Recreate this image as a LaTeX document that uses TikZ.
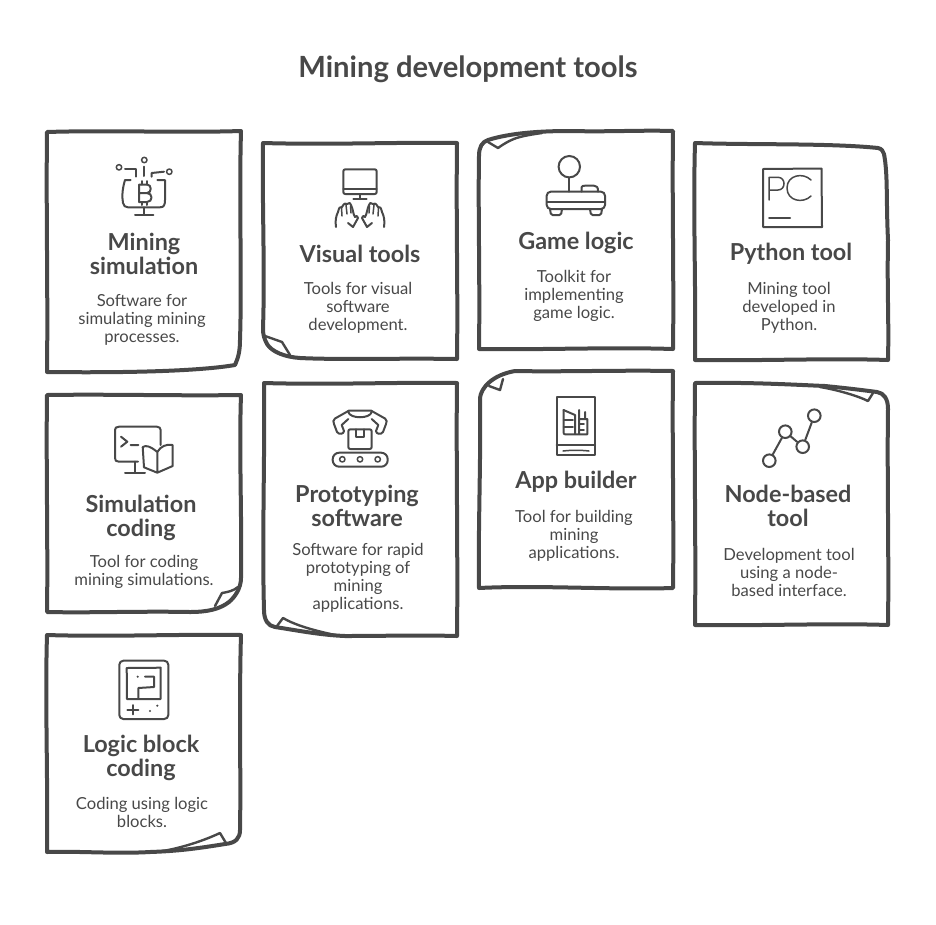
\documentclass[tikz,border=0pt]{standalone}
\usepackage{fontspec}
\setmainfont{Lato}
\definecolor{ink}{HTML}{484848}
\tikzset{
  x=1pt,y=-1pt,
  card/.style={draw=ink,line width=4pt,line join=round,line cap=round},
  fold/.style={draw=ink,line width=2.4pt,line join=round,line cap=round},
  icon/.style={draw=ink,line width=2pt,line join=round,line cap=round},
  thin icon/.style={draw=ink,line width=1.5pt,line join=round,line cap=round},
  headtext/.style={text=ink,align=center,inner sep=0pt,font=\fontsize{23.4}{24}\selectfont\bfseries},
  bodytext/.style={text=ink,align=center,inner sep=0pt,font=\fontsize{16.6}{18}\selectfont},
  titletext/.style={text=ink,inner sep=0pt,font=\fontsize{29.2}{32}\selectfont\bfseries},
  dot/.style={circle,draw=ink,line width=2pt,inner sep=0pt,minimum size=#1},
}
\begin{document}
\begin{tikzpicture}
\useasboundingbox (0,0) rectangle (936,924);
\node[titletext] (title) at (468,69) {Mining development tools};

% --- card outlines
\draw[card] (47,132) .. controls (110,130) and (180,133) .. (241,131)
  .. controls (239,200) and (242,280) .. (240,340) .. controls (240,352) and (238,358) .. (235,365)
  .. controls (200,371) and (130,373) .. (47,372) .. controls (48,290) and (46,210) .. (47,132) -- cycle;
\draw[card] (263,143) .. controls (330,145) and (400,142) .. (457,143)
  .. controls (456,220) and (458,290) .. (457,359) .. controls (400,358) and (340,360) .. (300,358)
  .. controls (285,357) and (272,352) .. (267,344) .. controls (264,338) and (263,335) .. (263,328)
  .. controls (265,270) and (262,200) .. (263,143) -- cycle;
\draw[fold] (265,336) -- (282,342) -- (290,355);
\draw[card] (673,131) .. controls (672,200) and (674,280) .. (673,349)
  .. controls (610,347) and (540,350) .. (479,349) .. controls (480,280) and (478,210) .. (479,156)
  .. controls (479,147) and (482,142) .. (488,140) .. controls (510,133) and (540,131) .. (570,131)
  .. controls (610,132) and (640,130) .. (673,131) -- cycle;
\draw[fold] (488,142) -- (498,148) .. controls (505,143) and (512,139) .. (520,137) .. controls (528,135) and (535,134) .. (542,133);
\draw[card] (695,143) .. controls (750,145) and (830,143) .. (878,148)
  .. controls (882,149) and (883,151) .. (884,154) .. controls (888,175) and (886,200) .. (888,240)
  .. controls (887,290) and (889,320) .. (888,360) .. controls (830,358) and (760,361) .. (695,360)
  .. controls (696,290) and (693,210) .. (695,143) -- cycle;
\draw[card] (47,395) .. controls (110,394) and (180,396) .. (241,395)
  .. controls (239,450) and (242,520) .. (241,578) .. controls (241,588) and (235,597) .. (229,602)
  .. controls (220,609) and (208,612) .. (190,612) .. controls (140,611) and (90,613) .. (47,612)
  .. controls (48,550) and (46,460) .. (47,395) -- cycle;
\draw[fold] (238,587) .. controls (233,591) and (228,592) .. (222,593) -- (215,606);
\draw[card] (264,383) .. controls (330,385) and (400,382) .. (457,383)
  .. controls (456,450) and (458,560) .. (457,636) .. controls (420,635) and (380,636) .. (345,636)
  .. controls (320,635) and (295,630) .. (275,627)
  .. controls (268,626) and (264,620) .. (264,610) .. controls (262,540) and (265,450) .. (264,383) -- cycle;
\draw[fold] (277,626) -- (283,618) .. controls (295,625) and (312,630) .. (335,635);
\draw[card] (673,371) .. controls (672,440) and (674,520) .. (673,588)
  .. controls (610,590) and (540,585) .. (479,588) .. controls (478,530) and (481,460) .. (480,398)
  .. controls (481,388) and (492,375) .. (515,371) .. controls (560,372) and (620,370) .. (673,371) -- cycle;
\draw[fold] (489,386) -- (500,390) -- (503,379);
\draw[card] (695,383) .. controls (750,382) and (800,385) .. (825,386)
  .. controls (845,388) and (862,390) .. (877,392) .. controls (884,393) and (888,399) .. (888,409)
  .. controls (887,470) and (889,560) .. (888,625) .. controls (830,623) and (760,626) .. (695,625)
  .. controls (696,540) and (694,460) .. (695,383) -- cycle;
\draw[fold] (873,393) -- (868,401) .. controls (858,396) and (838,390) .. (820,387);
\draw[card] (47,635) .. controls (110,637) and (180,634) .. (241,635)
  .. controls (239,700) and (241,780) .. (240,830) .. controls (240,838) and (236,843) .. (225,844)
  .. controls (200,848) and (180,851) .. (150,852)
  .. controls (115,854) and (80,851) .. (47,852) .. controls (48,780) and (45,700) .. (47,635) -- cycle;
\draw[fold] (226,843) -- (220,833) .. controls (205,840) and (185,847) .. (163,851);

% --- texts
\node[headtext] (h1) at (144,254) {Mining\\simulation};
\node[bodytext] (b1) at (142,320) {Software for\\simulating mining\\processes.};
\node[headtext] (h2) at (360,254) {Visual tools};
\node[bodytext] (b2) at (358,308) {Tools for visual\\software\\development.};
\node[headtext] (h3) at (576,243) {Game logic};
\node[bodytext] (b3) at (574,296) {Toolkit for\\implementing\\game logic.};
\node[headtext] (h4) at (791,254) {Python tool};
\node[bodytext] (b4) at (789,308) {Mining tool\\developed in\\Python.};
\node[headtext] (h5) at (141,518) {Simulation\\coding};
\node[bodytext] (b5) at (144,572) {Tool for coding\\mining simulations.};
\node[headtext] (h6) at (357,506) {Prototyping\\software};
\node[bodytext] (b6) at (358,578) {Software for rapid\\prototyping of\\mining\\applications.};
\node[headtext] (h7) at (576,482) {App builder};
\node[bodytext] (b7) at (574,536) {Tool for building\\mining\\applications.};
\node[headtext] (h8) at (788,506) {Node-based\\tool};
\node[bodytext] (b8) at (789,572) {Development tool\\using a node-\\based interface.};
\node[headtext] (h9) at (141,758) {Logic block\\coding};
\node[bodytext] (b9) at (142,812) {Coding using logic\\blocks.};

% --- icon 1: bitcoin monitor
\draw[thin icon] (144.3,160) circle (2.7) (119,167.3) circle (2.7) (169.3,171.7) circle (2.7);
\draw[icon] (144.3,166.7) -- (144.3,176);
\draw[icon] (125,169) -- (136,169) -- (136,176.7);
\draw[icon] (151.7,176.7) -- (151.7,173) -- (164,171.7);
\draw[icon] (130.7,180) -- (125,180) .. controls (122,190) and (122,197) .. (123,203)
  .. controls (124,206) and (125,207.3) .. (128,207.3) -- (160,207.3)
  .. controls (164,207.3) and (165,205) .. (165,200) -- (165,180) -- (157.3,180);
\draw[icon] (144.3,207.3) -- (144.3,214.3) (135,214.5) -- (153.3,214.5);
\draw[icon] (139,184.5) -- (147,184.5) .. controls (152,184.5) and (152,193) .. (147,193) -- (139,193)
  (147,193) .. controls (153,193) and (153,202) .. (147,202) -- (139,202) -- (139,184.5);
\draw[icon] (142,181) -- (142,184.5) (147,181) -- (147,184.5) (142,202) -- (142,205) (147,202) -- (147,205);

% --- icon 2: monitor and hands
\draw[icon,rounded corners=2pt] (343.3,169.3) rectangle (376.7,194);
\draw[icon] (343.3,189.3) -- (376.7,189.3) (360,194) -- (360,199) (353.3,199) -- (366.7,199);
\foreach \m/\o in {1/0pt,-1/720pt}{
\begin{scope}[xshift=\o,xscale=\m]
\draw[icon] (336,227) .. controls (335,221) and (336,216) .. (338,212)
  .. controls (339,208) and (340,206) .. (342,207) .. controls (344,203) and (346,203) .. (347,204)
  .. controls (349,202) and (351,203) .. (351,205) .. controls (353,209) and (353,214) .. (355,217)
  .. controls (356,215) and (358,216) .. (358,218) -- (353,227) -- (348,223);
\draw[thin icon] (341.5,208) -- (342,216) (346,205) -- (347,214) (350.5,206) -- (351,213);
\end{scope}}

% --- icon 3: joystick
\node[dot=21.4pt] (ball) at (569.3,166.7) {};
\coordinate (stickfoot) at (569.3,191.7);
\draw[icon] (ball) -- (stickfoot);
\draw[icon,rounded corners=4pt] (546.7,191.7) rectangle (605,209);
\draw[icon] (547,201.7) -- (605,201.7);
\draw[icon] (581.7,191.7) -- (581.7,187) .. controls (582,186) and (583,185.7) .. (585,185.7) -- (594,185.7)
  .. controls (597,185.7) and (598,187) .. (598,191.7);
\draw[icon,rounded corners=1.5pt] (550,209) -- (551,215) -- (561,215) -- (562,209);
\draw[icon,rounded corners=1.5pt] (590,209) -- (591,215) -- (601,215) -- (602,209);

% --- icon 4: PC logo
\draw[icon] (763,169) -- (821.5,168.5) -- (822,227) -- (763,227) -- cycle;
\draw[thin icon] (769,200) -- (769,177.3) -- (778,177.3) .. controls (786,177.3) and (786,190) .. (778,190) -- (769,190);
\draw[thin icon] (811,180) .. controls (803,172) and (787,175) .. (787,188) .. controls (787,201) and (803,204) .. (811,196);
\draw[icon] (769,217.7) -- (790,217.7);

% --- icon 5: terminal and book
\draw[icon] (160.7,445) -- (160.7,430) .. controls (160.7,428) and (159,426.7) .. (157,426.7) -- (119,426.7)
  .. controls (116,426.7) and (115,428) .. (115,430) -- (115,458) .. controls (115,460.5) and (116,461.7) .. (119,461.7) -- (138,461.7);
\draw[icon] (135,461.7) -- (135,472.3) (125,472.5) -- (145,472.5);
\draw[icon] (121,436.7) -- (127.3,441.7) -- (121,446.7) (130.7,445) -- (138.3,445);
\draw[icon] (157.3,452) .. controls (150,446) and (146,445) .. (142.7,447) -- (144,467.3) -- (157.3,472.7) -- (172.7,466) -- (172.7,445)
  .. controls (166,444) and (161,446) .. (157.3,452) -- (157.3,472.7);

% --- icon 6: robot arm on conveyor
\draw[icon,rounded corners=6.5pt] (332.7,452.7) rectangle (387.7,466.7);
\draw[thin icon] (342.3,459.3) circle (2.7) (360,459.3) circle (2.7) (377.7,459.3) circle (2.7);
\draw[icon,rounded corners=2pt] (348.3,429.3) rectangle (371.7,449);
\draw[icon] (356,429.3) -- (356,437.3) -- (364,437.3) -- (364,429.3);
\draw[icon] (348.3,410.7) -- (371.7,410.7) (348.3,412) .. controls (350,419) and (370,419) .. (371.7,412);
\draw[icon] (348.3,411) -- (335,418.5) .. controls (333,420) and (333,422) .. (334,424) -- (337,432)
  .. controls (339,435) and (344,434) .. (344,431) -- (341.7,425) -- (348.3,419);
\draw[icon] (371.7,411) -- (385,418.5) .. controls (387,420) and (387,422) .. (386,424) -- (383,432)
  .. controls (381,435) and (376,434) .. (376,431) -- (378.3,425) -- (371.7,419);

% --- icon 7: app building
\draw[icon] (556.7,397.3) -- (595,397.3) -- (595,455) -- (556.7,455) -- cycle;
\draw[icon] (556.7,444.5) -- (595,444.5);
\draw[thin icon] (563,451) .. controls (572,450) and (580,450) .. (589,451);
\draw[icon] (563.5,410) -- (563.5,432) .. controls (563.5,433.5) and (564,434.3) .. (565,434.3) -- (587.3,434.3) -- (587.3,419) -- (579,419);
\draw[icon] (563.5,410) -- (575,415) -- (575,434) (579,410) -- (579,434) (585,412) -- (585,419);
\draw[thin icon] (563.5,420) -- (573,420) (563.5,427) -- (573,427) (579,424) -- (584,424) (579,430) -- (584,430);

% --- icon 8: node graph
\node[dot=12.6pt] (n1) at (769.3,460.7) {};
\node[dot=12.6pt] (n2) at (785.3,431.7) {};
\node[dot=12.6pt] (n3) at (802.7,446.7) {};
\node[dot=12.6pt] (n4) at (814.3,415.7) {};
\draw[icon] (n1) -- (n2);
\draw[icon] (n2) -- (n3);
\draw[icon] (n3) -- (n4);

% --- icon 9: handheld console
\draw[icon,rounded corners=4pt] (119.3,660.7) rectangle (168.3,719);
\draw[icon] (126.7,668) -- (160.7,667.7) -- (160.5,699) -- (127,699) -- cycle;
\draw[icon] (145,676.7) -- (154,676.7) -- (154,687) -- (138.3,688) -- (138.3,698);
\draw[icon] (132.7,705) -- (132.7,714.3) (127.3,709.5) -- (138.3,709.5);
\fill[ink] (137.7,676.7) circle (1.2) (150,711) circle (1.2) (157.3,705.7) circle (1.2);
\end{tikzpicture}
\end{document}
